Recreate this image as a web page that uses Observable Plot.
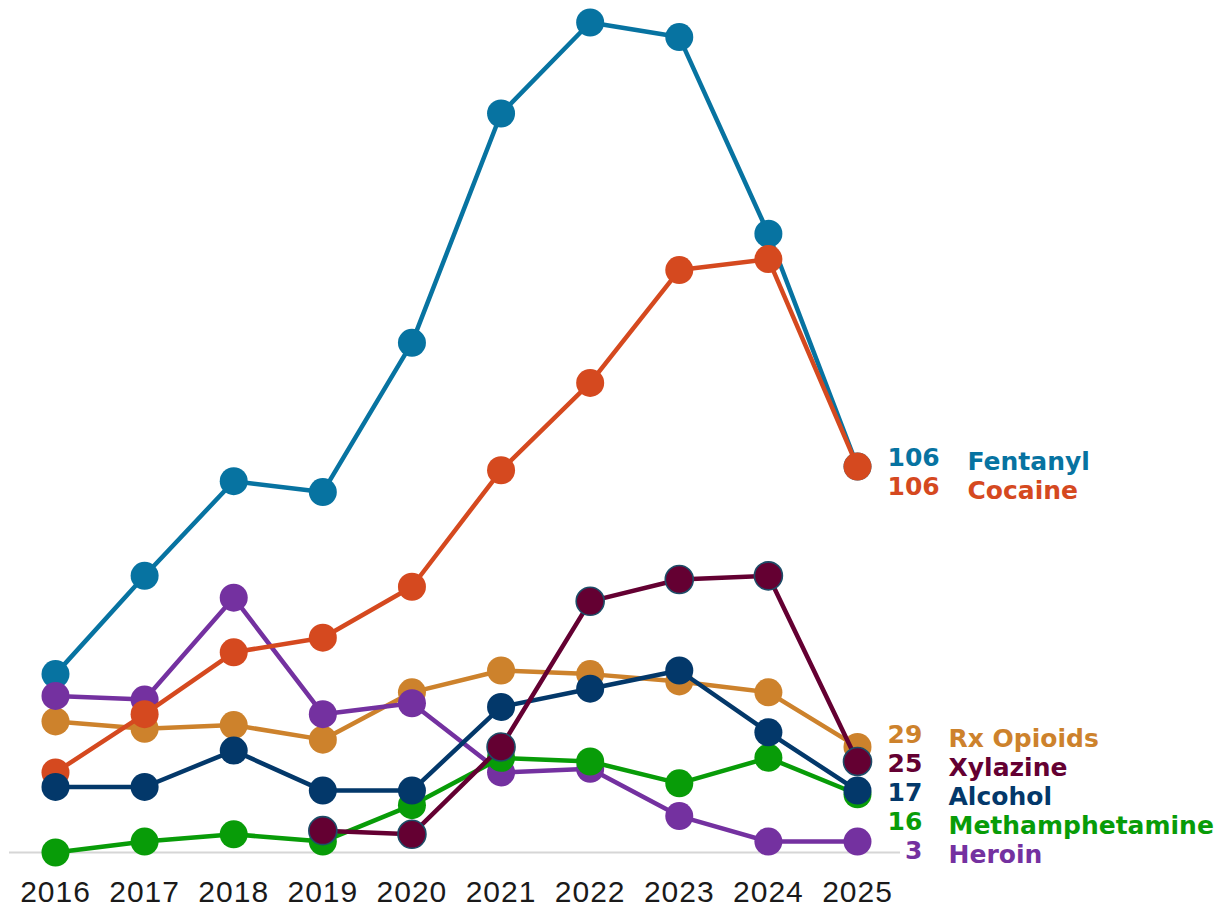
<!DOCTYPE html>
<html>
<head>
<meta charset="utf-8">
<script src="https://cdn.jsdelivr.net/npm/d3@7"></script>
<script src="https://cdn.jsdelivr.net/npm/@observablehq/plot@0.6"></script>
<style>
  html, body { margin: 0; padding: 0; background: #fff; }
  #chart svg g[aria-label="x-axis tick label"] text { letter-spacing: 1px; }
</style>
</head>
<body>
<div id="chart"></div>
<script>
// Yearly counts by substance
const years = [2016, 2017, 2018, 2019, 2020, 2021, 2022, 2023, 2024, 2025];
const fentanyl        = [49, 76, 102, 99, 140, 203, 228, 224, 170, 106];
const rxOpioids       = [36, 34, 35, 31, 44, 50, 49, 47, 44, 29];
const heroin          = [43, 42, 70, 38, 41, 22, 23, 10, 3, 3];
const cocaine         = [22, 38, 55, 59, 73, 105, 129, 160, 163, 106];
const methamphetamine = [0, 3, 5, 3, 13, 26, 25, 19, 26, 16];
const alcohol         = [18, 18, 28, 17, 17, 40, 45, 50, 33, 17];
const xylazine        = [null, null, null, 6, 5, 29, 69, 75, 76, 25];

// Series in drawing order (later ones sit on top)
const seriesNames  = ["Fentanyl", "Rx Opioids", "Heroin", "Cocaine", "Methamphetamine", "Alcohol", "Xylazine"];
const seriesValues = [fentanyl, rxOpioids, heroin, cocaine, methamphetamine, alcohol, xylazine];
const seriesColors = ["#0773a1", "#cd822c", "#7431a0", "#d5491f", "#089c08", "#03386a", "#640032"];

const width = 1225, height = 907;
const marginTop = 22, marginBottom = 55, marginLeft = 9, marginRight = 325;
const yDomain = [0, 228];

const rows = seriesNames.flatMap((name, i) =>
  years.map((year, j) => ({series: name, year, value: seriesValues[i][j]}))
);

// End-of-line labels: nudge apart so they don't overlap, working in pixels
const yPx = d3.scaleLinear(yDomain, [height - marginBottom, marginTop]);
const gap = 29;
const ends = seriesNames.map((name, i) => {
  const vals = seriesValues[i];
  const last = vals[vals.length - 1];
  return {series: name, color: seriesColors[i], value: last, target: yPx(last)};
}).sort((a, b) => a.target - b.target);

const clusterTop = cl => d3.mean(cl.items, d => d.target) - gap * (cl.items.length - 1) / 2;
let clusters = [];
for (const e of ends) {
  clusters.push({items: [e]});
  while (clusters.length > 1) {
    const c = clusters[clusters.length - 1], p = clusters[clusters.length - 2];
    if (clusterTop(p) + gap * p.items.length > clusterTop(c)) {
      clusters.splice(clusters.length - 2, 2, {items: p.items.concat(c.items)});
    } else break;
  }
}
clusters.forEach(cl => {
  const top = clusterTop(cl);
  cl.items.forEach((d, k) => { d.labelY = yPx.invert(top + gap * k); });
});

const lastYear = years[years.length - 1];
const labelFont = {fontFamily: "DejaVu Sans", fontWeight: "bold", fontSize: 25};

const seriesMarks = seriesNames.flatMap((name, i) => {
  const data = rows.filter(d => d.series === name && d.value != null);
  const isXylazine = name === "Xylazine";
  return [
    Plot.line(data, {x: "year", y: "value", stroke: seriesColors[i], strokeWidth: 4.5}),
    Plot.dot(data, {
      x: "year", y: "value", r: 14, fill: seriesColors[i],
      stroke: isXylazine ? "#1d4c68" : "none", strokeWidth: isXylazine ? 1.6 : 0
    })
  ];
});

const labelMarks = ends.flatMap(e => {
  const numText = String(e.value).padStart(2, "\u2007");
  const nameDx = 30 + numText.length * 19 + 23;
  return [
    Plot.text([e], {x: () => lastYear, y: "labelY", text: () => numText, fill: e.color,
      textAnchor: "start", dx: 30, dy: 6, ...labelFont}),
    Plot.text([e], {x: () => lastYear, y: "labelY", text: () => e.series, fill: e.color,
      textAnchor: "start", dx: nameDx, dy: 10, ...labelFont})
  ];
});

const chart = Plot.plot({
  width, height, marginTop, marginBottom, marginLeft, marginRight,
  style: {fontFamily: "Liberation Sans", background: "#fff"},
  x: {domain: [years[0], lastYear], insetLeft: 46, insetRight: 43, label: null},
  y: {domain: yDomain, axis: null},
  marks: [
    Plot.ruleY([0], {stroke: "#d6d6d6", strokeWidth: 2}),
    Plot.axisX({ticks: years, tickFormat: d => String(d), tickSize: 0, tickPadding: 28,
      fontSize: 30, color: "#1a1a1a", label: null}),
    ...seriesMarks,
    ...labelMarks
  ]
});

document.getElementById("chart").append(chart);
</script>
</body>
</html>
